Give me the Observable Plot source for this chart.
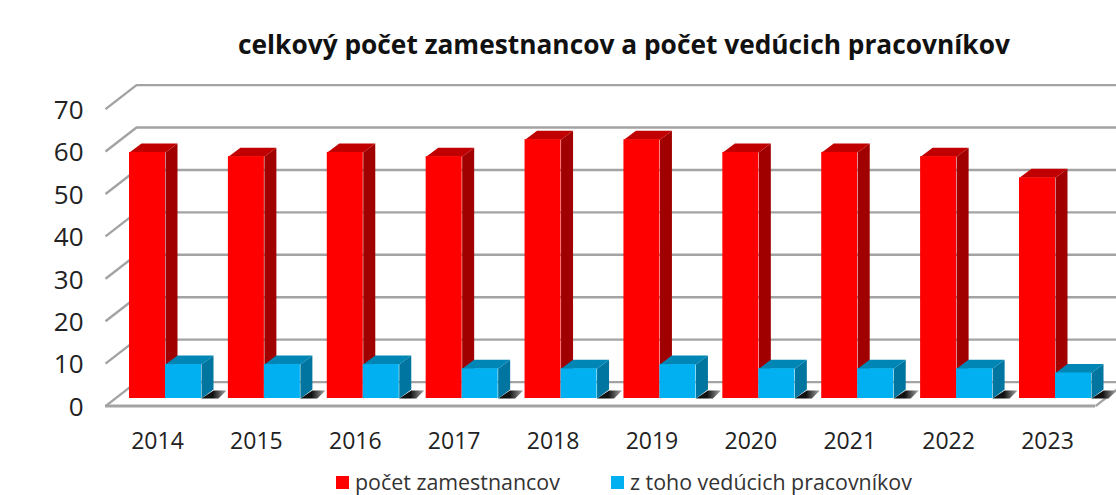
<!DOCTYPE html>
<html><head><meta charset="utf-8">
<script src="https://cdn.jsdelivr.net/npm/d3@7"></script>
<script src="https://cdn.jsdelivr.net/npm/@observablehq/plot@0.6"></script>
<style>
html,body{margin:0;padding:0;background:#fff;width:1116px;height:495px;overflow:hidden}
body{font-family:"Open Sans",sans-serif;color:#222;position:relative}
#t{height:60px;box-sizing:border-box;padding-top:27px;padding-left:238px;font-weight:700;font-size:26.3px;line-height:34px;white-space:nowrap;color:#111}
#c svg{display:block;overflow:visible}
#l{position:absolute;top:469px;left:0;width:1116px;height:26px;font-size:21.4px;line-height:26px;color:#333}
#l i{position:absolute;top:7px;width:13px;height:13px}
#l span{position:absolute;top:0;white-space:nowrap}
</style></head><body>
<div id="t">celkový počet zamestnancov a počet vedúcich pracovníkov</div>
<div id="c"></div>
<div id="l"><i style="left:336px;background:#ff0000"></i><span style="left:355px">počet zamestnancov</span><i style="left:611px;background:#00b0f0"></i><span style="left:630px">z toho vedúcich pracovníkov</span></div>
<script>
const years=[2014,2015,2016,2017,2018,2019,2020,2021,2022,2023];
const employees=[58,57,58,57,61,61,58,58,57,52];
const managers=[8,8,8,7,7,8,7,7,7,6];
const yTicks=[0,10,20,30,40,50,60,70];

// pixel-to-data helpers for the oblique 3D projection
const pxX=(2023-2014)/(1055-165), pxY=70/297;
const barW=36*pxX;
const depX=12*pxX, depY=9*pxY;           // bar depth
const frontX=-60*pxX, frontY=-7.6*pxY;   // front edge of the chart box
const backX=-29*pxX, backY=16.4*pxY;     // back wall
const rightFront=(1095-165)*pxX+2014, rightBack=(1126-165)*pxX+2014;

const poly=(rows)=>rows.flatMap((pts,i)=>pts.map(([x,y])=>({p:i,x,y})));
const sides=(vals,x0)=>poly(years.map((yr,i)=>{const a=yr+x0,b=a+barW,v=vals[i];
  return [[b,0],[b+depX,depY],[b+depX,v+depY],[b,v]];}));
const tops=(vals,x0)=>poly(years.map((yr,i)=>{const a=yr+x0,b=a+barW,v=vals[i];
  return [[a,v],[a+depX,v+depY],[b+depX,v+depY],[b,v]];}));
const fronts=(vals,x0)=>years.map((yr,i)=>({x1:yr+x0,x2:yr+x0+barW,y:vals[i]}));
const shadow=poly(years.map(yr=>{const b=yr+barW;
  return [[b,0],[b+depX,depY*0.9],[b+25*pxX,depY*0.9],[b+17*pxX,0]];}));
const face=(data,fill)=>Plot.line(data,{x:"x",y:"y",z:"p",fill,stroke:"none",curve:"linear-closed"});

const grid={stroke:"#a3a3a3",strokeWidth:2.4};
const chart=Plot.plot({
  width:1116,height:400,
  marginLeft:165,marginRight:61,marginTop:41,marginBottom:62,
  x:{domain:[2014,2023],label:null},
  y:{domain:[0,70],label:null},
  style:{fontFamily:"'Open Sans',sans-serif",background:"transparent",overflow:"visible"},
  marks:[
    ()=>{const s=d3.create("svg:defs");
      const g=s.append("linearGradient").attr("id","sh");
      g.append("stop").attr("offset","45%").attr("stop-color","#111111");
      g.append("stop").attr("offset","100%").attr("stop-color","#a8a8a8");
      return s.node();},
    // floor and walls
    Plot.link(yTicks,{x1:2014+frontX,x2:2014+backX,y1:d=>d+frontY,y2:d=>d+backY,...grid}),
    Plot.ruleY(yTicks,{y:d=>d+backY,x1:2014+backX,x2:rightBack,...grid}),
    Plot.ruleY([0],{y:d=>d+frontY,x1:2014+frontX,x2:rightFront,stroke:"#a3a3a3",strokeWidth:3}),
    Plot.link([0],{x1:rightFront,x2:rightBack,y1:frontY,y2:backY,...grid}),
    face(shadow,"url(#sh)"),
    // red bars
    face(sides(employees,-barW),"#a00000"),
    face(tops(employees,-barW),"#c00000"),
    Plot.rectY(fronts(employees,-barW),{x1:"x1",x2:"x2",y:"y",fill:"#ff0000"}),
    // blue bars
    face(sides(managers,0),"#00759f"),
    face(tops(managers,0),"#0086b5"),
    Plot.rectY(fronts(managers,0),{x1:"x1",x2:"x2",y:"y",fill:"#00b0f0"}),
    Plot.axisY({ticks:yTicks,tickSize:0,tickPadding:82,fontSize:26,dy:9,label:null,color:"#222"}),
    Plot.axisX({ticks:years,tickFormat:"d",tickSize:0,tickPadding:34,fontSize:23,dx:-8,label:null,color:"#222"})
  ]
});
document.getElementById("c").append(chart);
</script></body></html>
